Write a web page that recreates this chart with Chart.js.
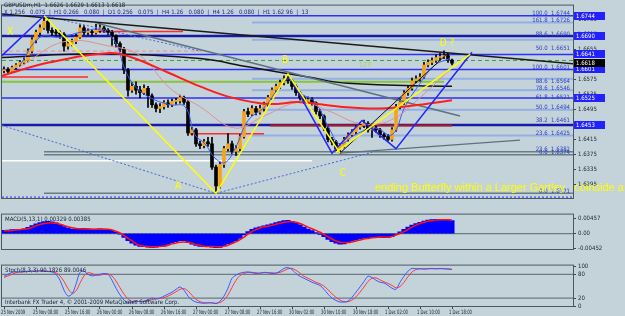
<!DOCTYPE html>
<html>
<head>
<meta charset="utf-8">
<script src="https://cdn.jsdelivr.net/npm/chart.js@4.4.0/dist/chart.umd.min.js"></script>
<style>
html,body{margin:0;padding:0;background:#c4d3d9;}
#wrap{position:relative;width:625px;height:316px;overflow:hidden;}
canvas{position:absolute;left:0;}
</style>
</head>
<body>
<div id="wrap">
<canvas id="mainC" width="625" height="209" style="top:0"></canvas>
<canvas id="macdC" width="625" height="51" style="top:209px"></canvas>
<canvas id="stochC" width="625" height="56" style="top:260px"></canvas>
</div>
<script>
// GBPUSDm H1, 25 Nov 2009 00:00 .. 1 Dec 2009 ~16:00 (bar index = hour)
const opens = [1.6598,1.6601,1.6596,1.6606,1.6613,1.6620,1.6625,1.6650,1.6680,1.6700,
1.6712,1.6729,1.6705,1.6700,1.6698,1.6695,1.6663,1.6670,1.6675,1.6687,
1.6712,1.6700,1.6702,1.6699,1.6705,1.6712,1.6706,1.6700,1.6690,1.6670,
1.6655,1.6600,1.6546,1.6556,1.6546,1.6539,1.6551,1.6531,1.6507,1.6497,
1.6502,1.6512,1.6507,1.6516,1.6517,1.6526,1.6514,1.6432,1.6440,1.6403,
1.6398,1.6408,1.6403,1.6341,1.6291,1.6348,1.6390,1.6403,1.6383,1.6390,
1.6422,1.6489,1.6482,1.6497,1.6487,1.6497,1.6507,1.6526,1.6546,1.6556,
1.6566,1.6576,1.6571,1.6556,1.6539,1.6526,1.6516,1.6521,1.6512,1.6489,
1.6477,1.6445,1.6415,1.6408,1.6390,1.6398,1.6415,1.6427,1.6435,1.6447,
1.6452,1.6457,1.6440,1.6445,1.6440,1.6427,1.6422,1.6415,1.6440,1.6502,
1.6514,1.6539,1.6551,1.6571,1.6576,1.6581,1.6613,1.6620,1.6625,1.6633,
1.6635,1.6638,1.6626];
const closes = [1.6601,1.6596,1.6606,1.6613,1.6620,1.6625,1.6650,1.6680,1.6700,1.6712,
1.6729,1.6705,1.6700,1.6698,1.6695,1.6663,1.6670,1.6675,1.6687,1.6712,
1.6700,1.6702,1.6699,1.6705,1.6712,1.6706,1.6700,1.6690,1.6670,1.6655,
1.6600,1.6546,1.6556,1.6546,1.6539,1.6551,1.6531,1.6507,1.6497,1.6502,
1.6512,1.6507,1.6516,1.6517,1.6526,1.6514,1.6432,1.6440,1.6403,1.6398,
1.6408,1.6403,1.6341,1.6291,1.6348,1.6390,1.6403,1.6383,1.6390,1.6422,
1.6489,1.6482,1.6497,1.6487,1.6497,1.6507,1.6526,1.6546,1.6556,1.6566,
1.6576,1.6571,1.6556,1.6539,1.6526,1.6516,1.6521,1.6512,1.6489,1.6477,
1.6445,1.6415,1.6408,1.6390,1.6398,1.6415,1.6427,1.6435,1.6447,1.6452,
1.6457,1.6440,1.6445,1.6440,1.6427,1.6422,1.6415,1.6440,1.6502,1.6514,
1.6539,1.6551,1.6571,1.6576,1.6581,1.6613,1.6620,1.6625,1.6633,1.6635,
1.6638,1.6626,1.6618];
const highs = [1.6608,1.6606,1.6610,1.6617,1.6625,1.6632,1.6656,1.6686,1.6706,1.6720,
1.6744,1.6733,1.6712,1.6708,1.6704,1.6699,1.6676,1.6682,1.6696,1.6720,
1.6718,1.6709,1.6706,1.6722,1.6724,1.6716,1.6710,1.6705,1.6693,1.6675,
1.6660,1.6604,1.6566,1.6568,1.6556,1.6560,1.6556,1.6536,1.6512,1.6510,
1.6518,1.6520,1.6522,1.6524,1.6533,1.6530,1.6518,1.6447,1.6444,1.6410,
1.6415,1.6420,1.6420,1.6346,1.6354,1.6396,1.6430,1.6410,1.6398,1.6428,
1.6495,1.6498,1.6505,1.6503,1.6506,1.6514,1.6532,1.6552,1.6562,1.6573,
1.6584,1.6589,1.6575,1.6560,1.6543,1.6530,1.6528,1.6526,1.6515,1.6494,
1.6480,1.6450,1.6420,1.6412,1.6404,1.6420,1.6432,1.6441,1.6453,1.6460,
1.6466,1.6462,1.6452,1.6450,1.6444,1.6432,1.6428,1.6446,1.6508,1.6522,
1.6545,1.6558,1.6578,1.6584,1.6590,1.6620,1.6627,1.6632,1.6640,1.6644,
1.6651,1.6645,1.6629];
const lows = [1.6592,1.6590,1.6594,1.6602,1.6609,1.6615,1.6621,1.6645,1.6672,1.6694,
1.6708,1.6698,1.6692,1.6690,1.6684,1.6650,1.6655,1.6664,1.6670,1.6684,
1.6694,1.6694,1.6692,1.6695,1.6700,1.6700,1.6694,1.6665,1.6660,1.6648,
1.6590,1.6530,1.6540,1.6535,1.6525,1.6534,1.6500,1.6500,1.6488,1.6486,
1.6495,1.6500,1.6502,1.6508,1.6511,1.6508,1.6425,1.6426,1.6396,1.6390,
1.6392,1.6396,1.6335,1.6271,1.6285,1.6340,1.6384,1.6376,1.6372,1.6385,
1.6418,1.6475,1.6478,1.6480,1.6482,1.6490,1.6502,1.6520,1.6540,1.6550,
1.6560,1.6564,1.6548,1.6532,1.6519,1.6510,1.6510,1.6506,1.6482,1.6470,
1.6438,1.6408,1.6400,1.6384,1.6378,1.6392,1.6410,1.6422,1.6430,1.6442,
1.6446,1.6434,1.6420,1.6433,1.6420,1.6415,1.6410,1.6410,1.6436,1.6496,
1.6508,1.6532,1.6546,1.6565,1.6570,1.6577,1.6608,1.6614,1.6620,1.6626,
1.6630,1.6620,1.6613];

// MACD histogram + signal
const macdMain = [0.0010,0.0011,0.0012,0.0012,0.0013,0.0015,0.0019,
0.0025,0.0030,0.0034,0.0037,0.0038,0.0036,0.0033,
0.0028,0.0022,0.0017,0.0014,0.0014,0.0016,0.0016,
0.0015,0.0014,0.0014,0.0015,0.0014,0.0013,0.0010,0.0004,
-0.0002,-0.0012,-0.0022,-0.0030,-0.0036,-0.0040,-0.0041,-0.0042,-0.0043,-0.0042,-0.0041,-0.0039,
-0.0034,-0.0029,-0.0025,-0.0022,-0.0022,-0.0028,-0.0033,-0.0037,-0.0040,-0.0041,-0.0041,-0.0042,
-0.0044,-0.0043,-0.0038,-0.0032,-0.0028,-0.0022,-0.0015,-0.0004,
0.0006,0.0013,0.0018,0.0021,0.0024,0.0027,0.0030,0.0034,0.0037,0.0040,0.0041,
0.0038,0.0033,0.0027,0.0020,0.0014,0.0009,0.0003,-0.0003,-0.0010,-0.0018,-0.0025,-0.0030,-0.0033,
-0.0032,-0.0028,-0.0024,-0.0020,-0.0017,-0.0014,-0.0013,-0.0012,-0.0012,-0.0012,-0.0013,-0.0013,-0.0010,-0.0003,
0.0005,0.0013,0.0020,0.0026,0.0031,0.0035,0.0039,0.0042,0.0043,0.0044,0.0044,0.0044,0.0043,0.0040];
const macdSignal = [0.0008,0.0009,0.0010,0.0011,0.0012,0.0013,0.0015,
0.0019,0.0024,0.0028,0.0031,0.0033,0.0033,0.0032,
0.0029,0.0025,0.0021,0.0018,0.0016,0.0015,0.0014,
0.0014,0.0013,0.0013,0.0013,0.0013,0.0013,0.0011,0.0007,
0.0002,-0.0006,-0.0015,-0.0023,-0.0031,-0.0037,-0.0039,-0.0040,-0.0041,-0.0041,-0.0040,-0.0039,
-0.0036,-0.0032,-0.0029,-0.0027,-0.0026,-0.0027,-0.0030,-0.0034,-0.0037,-0.0039,-0.0040,-0.0040,
-0.0041,-0.0041,-0.0039,-0.0036,-0.0031,-0.0026,-0.0019,-0.0011,
-0.0002,0.0006,0.0012,0.0017,0.0021,0.0023,0.0026,0.0029,0.0032,0.0035,0.0037,
0.0037,0.0035,0.0031,0.0026,0.0020,0.0015,0.0010,0.0004,-0.0003,-0.0010,-0.0017,-0.0023,-0.0027,
-0.0028,-0.0028,-0.0026,-0.0023,-0.0020,-0.0017,-0.0015,-0.0013,-0.0012,-0.0011,-0.0011,-0.0011,-0.0009,-0.0005,
0.0000,0.0006,0.0013,0.0020,0.0026,0.0031,0.0035,0.0038,0.0040,0.0042,0.0043,0.0043,0.0043,0.0042];

// Stochastic main (blue) + signal (red)
const stochMain = [75,80,85,86,86,87,88,88,88,89,88,87,86,
80,65,40,25,30,55,85,88,80,76,
78,80,82,80,65,45,28,15,8,
10,14,10,12,15,20,18,
20,25,30,35,42,48,40,25,15,
10,8,7,8,8,6,12,25,45,70,78,
83,85,86,84,82,83,85,84,82,83,
88,95,97,92,82,
75,70,65,60,56,52,42,30,20,14,10,10,12,22,35,48,62,75,72,65,60,58,52,45,42,60,75,88,95,
94,94,93,94,95,94,95,94,93,92];
const stochSignal = [72,76,80,84,86,86,87,88,88,88,88,88,87,
84,76,62,44,32,38,58,76,84,82,
78,78,80,81,76,63,46,30,18,
11,11,12,12,13,16,18,
19,21,25,30,36,42,44,38,27,
17,11,8,8,8,7,9,15,28,47,65,
77,82,85,85,84,83,84,84,84,83,
85,89,94,95,90,
83,75,70,65,60,56,50,41,31,22,15,11,11,15,23,35,48,62,70,71,66,61,57,52,46,49,60,74,86,92,
94,94,94,94,94,94,94,94,93];

// time axis
const xTickBars = [0,8,16,24,32,40,48,56,64,72,80,88,96,104,112];
const xLabels = ['25 Nov 2009','25 Nov 08:00','25 Nov 16:00','26 Nov 00:00','26 Nov 08:00','26 Nov 16:00',
'27 Nov 00:00','27 Nov 08:00','27 Nov 16:00','30 Nov 02:00','30 Nov 10:00','30 Nov 18:00',
'1 Dec 02:00','1 Dec 10:00','1 Dec 18:00'];
const yTicks = [1.6295,1.6335,1.6375,1.6415,1.6455,1.6495,1.6535,1.6575,1.6615,1.6655,1.6695,1.6735];
const boxPrices = [1.6744,1.6690,1.6641,1.6601,1.6525,1.6453];
const bidPrice = 1.6618;
const macdTicks = [0.00457,0,-0.00452];
const stochTicks = [100,80,20,0];

// drawn objects: [bar, price] anchors
const redMA = [[-1,1.6583],[11.5,1.6620],[26.5,1.6645],[32,1.6633],[41,1.6593],[49,1.6556],[57,1.6526],[66,1.6509],[74,1.6514],[84,1.6502],[94,1.6497],[104,1.6507],[112,1.6519]];
const pinkMA = [[4,1.6608],[15,1.6675],[26.5,1.6663],[34,1.6638],[41.5,1.6551],[49,1.6502],[57.7,1.6445],[65,1.6477],[74,1.6514],[81.5,1.6489],[89,1.6457],[96.5,1.6465],[104,1.6526],[111.5,1.6601]];
const blackMA = [[-1,1.6633],[24,1.6643],[49,1.6630],[61,1.6608],[76,1.6581],[86,1.6564],[112,1.6556]];
const fastMA = [[4,1.6613],[9,1.6687],[14,1.6687],[19,1.6700],[24,1.6707],[27.75,1.6675],[30.25,1.6601],[32.75,1.6556],
[36.5,1.6526],[41.5,1.6507],[45.25,1.6502],[47.75,1.6427],[50.25,1.6403],[52.75,1.6365],[55.25,1.6353],[57.75,1.6390],
[61,1.6465],[65.25,1.6502],[69,1.6556],[71.5,1.6576],[74,1.6539],[77.75,1.6514],[81.5,1.6440],[84,1.6403],[87.75,1.6427],
[92.75,1.6445],[97,1.6427],[100.25,1.6502],[104,1.6564],[107.75,1.6613],[111.5,1.6630]];
const xabcd = [[10,1.6744],[53,1.6271],[71,1.6589],[84,1.6378]];
const cdLine = [[83,1.6380],[116.5,1.6641]];
const channelLine = [[84,1.6378],[111,1.6645]];
const blueZigzag = [[71,1.6589],[82,1.6378],[89.5,1.6465],[98,1.6390],[117,1.6647]];
const blueXLeg = [[-0.5,1.6638],[10,1.6744]];
const longTrend = [[-0.5,1.6749],[142.25,1.6616]];
const greyTrend = [[23.25,1.6724],[114,1.6477]];
const cTrend = [[84,1.6378],[129,1.6413]];
const dotA1 = [[-0.5,1.6452],[53,1.6271]];
const dotA2 = [[53,1.6271],[92,1.6380]];
const dotX = [[10,1.6744],[49,1.6650]];

const blueLevels = [1.6744,1.6641,1.6601,1.6525];
const navyLevels = [1.6690,1.6453];
const paleLevels = [1.6726,1.6680,1.6576,1.6546,1.6494,1.6425];
const greyLevels = [1.6382,1.6374,1.6271];
const redSegs = [[22.75,44.75,1.6702],[-0.5,21,1.6581],[46.5,65,1.6430]];
const darkRedSegs = [[66.5,112,1.6452]];

const fibTexts = ['100.0  1.6744','161.8  1.6726','88.6  1.6690','50.0  1.6651','100.0  1.6601','88.6  1.6564',
'78.6  1.6546','61.8  1.6521','50.0  1.6494','38.2  1.6461','23.6  1.6425','23.6  1.6382','0.0  1.6374','0.0  1.6271'];
const fibPrices = [1.6744,1.6726,1.6690,1.6651,1.6601,1.6564,1.6546,1.6521,1.6494,1.6461,1.6425,1.6382,1.6374,1.6271];

const marks = [['X',1.5,1.6700],['A',43.5,1.6289],['B',70.25,1.6625],['C',84.75,1.6323],['D ?',110.75,1.6670]];
const note = ['ending Butterfly within a Larger Gartley   coinside a', 92.75, 1.6286];

const X_MIN = -0.5, X_MAX = 142.25, AXIS_W = 52;
const FONT = '"DejaVu Sans Condensed","DejaVu Sans",sans-serif';
Chart.defaults.font.family = FONT;
Chart.defaults.font.size = 6;
Chart.defaults.color = '#1a2630';
Chart.defaults.animation = false;
Chart.defaults.events = [];
Chart.defaults.plugins.legend.display = false;
Chart.defaults.plugins.tooltip.enabled = false;

const bars = closes.map((c,i)=>i);

function path(pts, color, width, order, extra){
  return Object.assign({type:'line', data:pts.map(p=>({x:p[0],y:p[1]})), borderColor:color, borderWidth:width,
    pointRadius:0, tension:0, fill:false, order:order}, extra||{});
}
function level(p, from, to, color, width, order, dash){
  return path([[from,p],[to,p]], color, width, order, {borderDash:dash||[]});
}
function xAxis(show){
  return {type:'linear', min:X_MIN, max:X_MAX, offset:false, display:show,
    afterBuildTicks: s=>{ s.ticks = xTickBars.map(v=>({value:v})); },
    afterFit: s=>{ s.height = 10; },
    ticks:{callback:()=>'', maxRotation:0, autoSkip:false, padding:0},
    grid:{drawOnChartArea:false, tickLength:3, color:'#3a4850'}, border:{display:false}};
}
function yAxis(min, max, tickVals, fmt){
  return {position:'right', min:min, max:max,
    afterFit: s=>{ s.width = AXIS_W; },
    afterBuildTicks: s=>{ s.ticks = tickVals.map(v=>({value:v})); },
    ticks:{callback:fmt, padding:2, font:{size:6}, color:'#1a2630'},
    grid:{drawOnChartArea:false, tickLength:3, color:'#3a4850'}, border:{display:false}};
}
const frame = {
  id:'frame',
  afterDraw(chart){
    const a = chart.chartArea, ctx = chart.ctx;
    ctx.save();
    ctx.strokeStyle = '#4a5860'; ctx.lineWidth = 1;
    ctx.strokeRect(a.left-0.5, a.top-0.5, a.right-a.left+1, a.bottom-a.top+1);
    ctx.restore();
  }
};

// ---------- main price panel ----------
const mainSets = [];
blueLevels.forEach(p=>mainSets.push(level(p, X_MIN, X_MAX, '#2e2eff', 1.5, 20)));
navyLevels.forEach(p=>mainSets.push(level(p, X_MIN, X_MAX, '#1a1aa8', 2.5, 20)));
paleLevels.forEach(p=>mainSets.push(level(p, 62, X_MAX, '#94aee6', 2, 21)));
greyLevels.forEach(p=>mainSets.push(level(p, 10, X_MAX, '#6a7c88', 1.5, 21)));
mainSets.push(level(1.6358, X_MIN, 77, '#ffffff', 1.5, 21));
mainSets.push(level(1.6568, X_MIN, 110, '#86c43c', 2, 21));
mainSets.push(level(1.6625, X_MIN, X_MAX, '#3aa040', 1, 21, [4,3]));
mainSets.push(level(1.6650, X_MIN, 50, '#e39090', 1, 21, [4,3]));
mainSets.push(level(1.6261, X_MIN, X_MAX, '#2e2eff', 1, 21, [2,2]));
redSegs.forEach(s=>mainSets.push(level(s[2], s[0], s[1], '#ff2a2a', 1.5, 19)));
darkRedSegs.forEach(s=>mainSets.push(level(s[2], s[0], s[1], '#b01c1c', 2, 19)));

mainSets.push({type:'bar', data:bars.map(i=>({x:i, y:[lows[i], highs[i]]})), backgroundColor:'#000000',
  barThickness:1, grouped:false, order:6});
mainSets.push({type:'bar', data:bars.map(i=>({x:i, y:[opens[i], closes[i]]})),
  backgroundColor:bars.map(i=>closes[i]>=opens[i] ? '#f5a418' : '#000000'),
  barThickness:3, grouped:false, minBarLength:1, order:5});

mainSets.push(path(pinkMA, '#e38f8f', 1, 4, {tension:0.4}));
mainSets.push(path(fastMA, '#3a58ff', 1, 4, {tension:0.4}));
mainSets.push(path(blackMA, '#141414', 1.5, 4, {tension:0.4}));
mainSets.push(path(redMA, '#ff1e1e', 2, 3, {tension:0.4}));
mainSets.push(path(longTrend, '#1a1a1a', 1.5, 3));
mainSets.push(path(greyTrend, '#5f7180', 1.5, 3));
mainSets.push(path(cTrend, '#5f7180', 1.2, 3));
mainSets.push(path(dotA1, '#4a66d8', 1, 3, {borderDash:[2,2]}));
mainSets.push(path(dotA2, '#4a66d8', 1, 3, {borderDash:[2,2]}));
mainSets.push(path(dotX, '#4a66d8', 1, 3, {borderDash:[2,2]}));
mainSets.push(path(blueXLeg, '#2424ff', 1.5, 2));
mainSets.push(path(blueZigzag, '#2424ff', 1.5, 2));
mainSets.push(path(channelLine, '#101010', 1, 2));
mainSets.push(path(xabcd, '#ffff00', 1.5, 1));
mainSets.push(path(cdLine, '#ffff00', 1.5, 1));

const mainDeco = {
  id:'mainDeco',
  afterDraw(chart){
    const ctx = chart.ctx, a = chart.chartArea, xs = chart.scales.x, ys = chart.scales.y;
    ctx.save();
    // fib level captions
    ctx.font = '6px ' + FONT; ctx.fillStyle = '#2b3fc2'; ctx.textAlign = 'right'; ctx.textBaseline = 'bottom';
    fibTexts.forEach((t,k)=>ctx.fillText(t, a.right-3, ys.getPixelForValue(fibPrices[k])+1));
    // price boxes on the axis
    ctx.textAlign = 'left'; ctx.textBaseline = 'middle';
    boxPrices.forEach(p=>{
      const y = Math.round(ys.getPixelForValue(p));
      ctx.fillStyle = '#2222ff'; ctx.fillRect(a.right+1, y-4, 31, 8);
      ctx.fillStyle = '#ffffff'; ctx.fillText(p.toFixed(4), a.right+3, y);
    });
    const yb = Math.round(ys.getPixelForValue(bidPrice));
    ctx.fillStyle = '#000000'; ctx.fillRect(a.right+1, yb-4, 31, 8);
    ctx.fillStyle = '#ffffff'; ctx.fillText(bidPrice.toFixed(4), a.right+3, yb);
    // header
    ctx.fillStyle = '#14223a'; ctx.textBaseline = 'top';
    ctx.fillText('GBPUSDm,H1  1.6626 1.6629 1.6613 1.6618', a.left+2, 2);
    ctx.fillStyle = '#1c2c8a';
    ctx.fillText('X 1.256   0.075  |  H1 0.266   0.080  |  D1 0.256   0.075  |  H4 1.26   0.080  |  H4 1.26   0.080  |  H1 1.62 96  |  13', a.left+2, 9);
    // pattern letters
    ctx.fillStyle = '#ffff00'; ctx.textAlign = 'center'; ctx.textBaseline = 'middle';
    ctx.font = '10px ' + FONT;
    marks.forEach(m=>ctx.fillText(m[0], xs.getPixelForValue(m[1]), ys.getPixelForValue(m[2])));
    ctx.font = '7px ' + FONT; ctx.fillStyle = '#a8d060';
    ctx.fillText('127', xs.getPixelForValue(90.25), ys.getPixelForValue(1.6613));
    ctx.font = '11px "Liberation Sans",sans-serif'; ctx.fillStyle = '#ffff00'; ctx.textAlign = 'left';
    ctx.fillText(note[0], xs.getPixelForValue(note[1]), ys.getPixelForValue(note[2]));
    ctx.restore();
  }
};

new Chart(document.getElementById('mainC'), {
  type:'bar',
  data:{datasets:mainSets},
  options:{responsive:false, layout:{autoPadding:false, padding:{left:2, right:0, top:1, bottom:1}},
    scales:{x:xAxis(false), y:yAxis(1.62586, 1.67712, yTicks, v=>v.toFixed(4))}},
  plugins:[frame, mainDeco]
});

// ---------- MACD panel ----------
const labelPlugin = (id, text) => ({
  id:id,
  afterDraw(chart){
    const ctx = chart.ctx;
    ctx.save(); ctx.font = '6px ' + FONT; ctx.fillStyle = '#14223a'; ctx.textBaseline = 'top';
    ctx.fillText(text, chart.chartArea.left+3, chart.chartArea.top+2);
    ctx.restore();
  }
});
new Chart(document.getElementById('macdC'), {
  type:'bar',
  data:{datasets:[
    {type:'bar', data:bars.map(i=>({x:i, y:macdMain[i]})), backgroundColor:'#0000ff', barThickness:4.4, grouped:false, order:3},
    path([[X_MIN,0],[X_MAX,0]], '#6c7c86', 1.2, 4),
    {type:'line', data:bars.map(i=>({x:i, y:macdSignal[i]})), borderColor:'#ff1010', borderWidth:1.5, pointRadius:0, tension:0.3, order:1}
  ]},
  options:{responsive:false, layout:{autoPadding:false, padding:{left:2, right:0, top:1, bottom:1}},
    scales:{x:xAxis(false), y:yAxis(-0.00479, 0.00588, macdTicks, v=>v===0 ? '0.00' : v.toFixed(5))}},
  plugins:[frame, labelPlugin('macdLabel','MACD(5,13,1) 0.00329 0.00385')]
});

// ---------- Stochastic panel ----------
const copyright = {
  id:'copyright',
  afterDraw(chart){
    const ctx = chart.ctx, a = chart.chartArea;
    ctx.save(); ctx.font = '6px ' + FONT; ctx.fillStyle = '#14223a'; ctx.textBaseline = 'bottom';
    ctx.fillText('Interbank FX Trader 4, \u00a9 2001-2009 MetaQuotes Software Corp.', a.left+3, a.bottom-1);
    ctx.restore();
  }
};
// time labels, squeezed horizontally like the terminal's small font
const timeLabels = {
  id:'timeLabels',
  afterDraw(chart){
    const ctx = chart.ctx, xs = chart.scales.x, a = chart.chartArea;
    ctx.save(); ctx.font = '6px ' + FONT; ctx.fillStyle = '#1a2630'; ctx.textBaseline = 'top'; ctx.textAlign = 'left';
    const k = 0.7;
    ctx.scale(k, 1);
    xTickBars.forEach((b,j)=>ctx.fillText(xLabels[j], (xs.getPixelForValue(b)-3)/k, a.bottom+3));
    ctx.restore();
  }
};
new Chart(document.getElementById('stochC'), {
  type:'line',
  data:{datasets:[
    path([[X_MIN,80],[X_MAX,80]], '#6c7c86', 1.2, 5),
    path([[X_MIN,20],[X_MAX,20]], '#6c7c86', 1.2, 5),
    {data:bars.map(i=>({x:i, y:stochSignal[i]})), borderColor:'#ff3a3a', borderWidth:1, pointRadius:0, tension:0.3, order:2},
    {data:bars.map(i=>({x:i, y:stochMain[i]})), borderColor:'#3a5cff', borderWidth:1, pointRadius:0, tension:0.3, order:1}
  ]},
  options:{responsive:false, layout:{autoPadding:false, padding:{left:2, right:0, top:1, bottom:0}},
    scales:{x:xAxis(true), y:yAxis(0, 102, stochTicks, v=>String(v))}},
  plugins:[frame, labelPlugin('stochLabel','Stoch(8,3,3) 90.1826 89.0046'), copyright, timeLabels]
});
</script>
</body>
</html>
